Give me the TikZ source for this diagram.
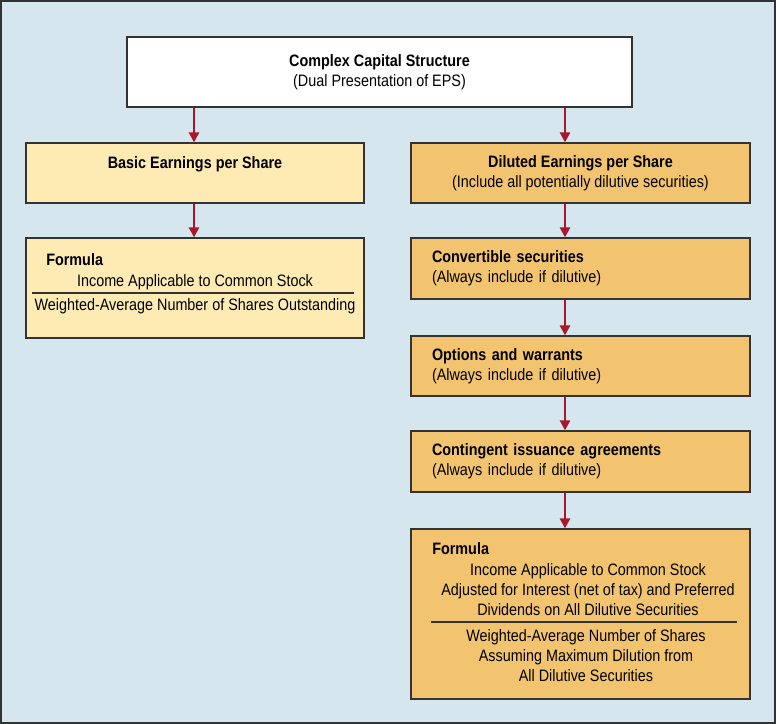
\documentclass[tikz,border=0pt]{standalone}
\usepackage{fontspec}
\setmainfont{Liberation Sans}[FakeStretch=0.87]
\usepackage{xcolor}
\usepackage{tikz}
\usetikzlibrary{arrows.meta}

\definecolor{bgblue}{HTML}{D6E6EF}
\definecolor{paleyellow}{HTML}{FDEBB3}
\definecolor{darkyellow}{HTML}{F3C46F}
\definecolor{arrowred}{HTML}{A9172B}
\definecolor{boxline}{HTML}{333333}

\begin{document}
\fontsize{12.4}{15}\selectfont
\begin{tikzpicture}[x=0.75pt, y=-0.75pt,
        box/.style={rectangle, draw=boxline, line width=0.9pt, minimum width=253.5pt, align=center, inner sep=0pt},
        basicbox/.style={box, fill=paleyellow},
        dilbox/.style={box, fill=darkyellow, minimum width=254.25pt},
        stepbox/.style={dilbox, text width=222.75pt, align=left, minimum height=45.75pt},
        arrow/.style={-{Triangle[length=7.5pt, width=7.5pt]}, arrowred, line width=1.9pt},
        ftext/.style={inner sep=0pt, align=center}
    ]
        \useasboundingbox (0,0) rectangle (776,724);
        \draw[fill=bgblue, draw=boxline, line width=1.5pt] (1,1) rectangle (775,723);

        % Top
        \node[box, fill=white, minimum width=378.75pt, minimum height=52.5pt] (capital) at (379.5,72)
            {\textbf{Complex Capital Structure}\\(Dual Presentation of EPS)};

        % Basic EPS
        \node[basicbox, minimum height=45pt] (basic) at (195,173)
            {\textbf{Basic Earnings per Share}\\\mbox{}};
        \node[basicbox, minimum height=75pt] (basicform) at (195,288) {};
        \node[ftext, anchor=west] (basichead) at (46,260) {\textbf{Formula}};
        \node[ftext] (basicnum) at (195,282) {Income Applicable to Common Stock};
        \node[ftext] (basicden) at (195,306) {Weighted-Average Number of Shares Outstanding};
        \draw[boxline, line width=0.8pt] (32,293) -- (354,293);

        % Diluted EPS
        \node[dilbox, minimum height=45pt] (diluted) at (580.5,173)
            {\textbf{Diluted Earnings per Share}\\(Include all potentially dilutive securities)};
        \node[stepbox] (convert) at (580.5,268.5)
            {\textbf{Convertible securities}\\(Always include if dilutive)};
        \node[stepbox, minimum height=45pt] (options) at (580.5,366)
            {\textbf{Options and warrants}\\(Always include if dilutive)};
        \node[stepbox] (contingent) at (580.5,461.5)
            {\textbf{Contingent issuance agreements}\\(Always include if dilutive)};
        \node[dilbox, minimum height=127.5pt] (dilform) at (580.5,614) {};
        \node[ftext, anchor=west] (dilhead) at (432,549) {\textbf{Formula}};
        \node[ftext] (dilnum) at (588,590)
            {Income Applicable to Common Stock\\Adjusted for Interest (net of tax) and Preferred\\Dividends on All Dilutive Securities};
        \node[ftext] (dilden) at (586,656)
            {Weighted-Average Number of Shares\\Assuming Maximum Dilution from\\All Dilutive Securities};
        \draw[boxline, line width=0.8pt] (431,622) -- (737,622);

        % Arrows
        \coordinate (lx) at (194,0);
        \coordinate (rx) at (565,0);
        \draw[arrow] (capital.south -| lx) -- (basic.north -| lx);
        \draw[arrow] (basic.south -| lx) -- (basicform.north -| lx);
        \draw[arrow] (capital.south -| rx) -- (diluted.north -| rx);
        \draw[arrow] (diluted.south -| rx) -- (convert.north -| rx);
        \draw[arrow] (convert.south -| rx) -- (options.north -| rx);
        \draw[arrow] (options.south -| rx) -- (contingent.north -| rx);
        \draw[arrow] (contingent.south -| rx) -- (dilform.north -| rx);
    \end{tikzpicture}
\end{document}
